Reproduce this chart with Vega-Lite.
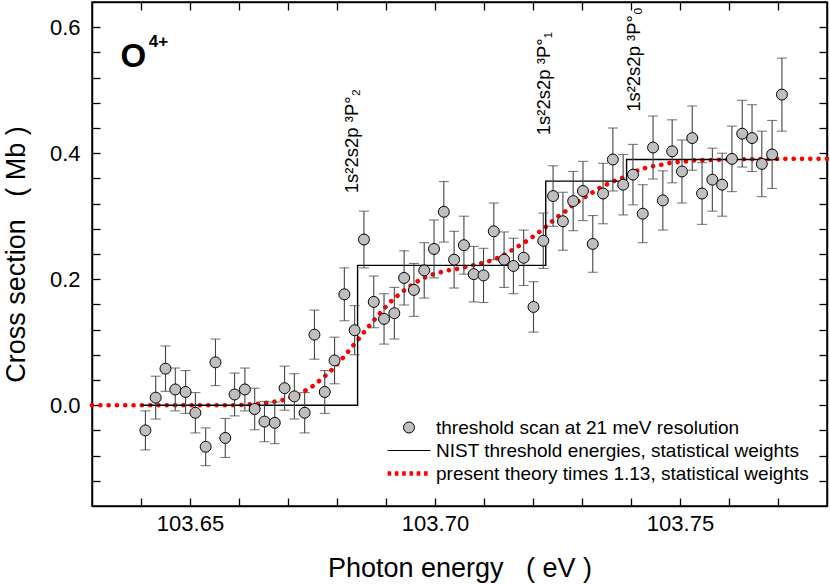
{
  "$schema": "https://vega.github.io/schema/vega-lite/v6.json",
  "width": 735,
  "height": 504,
  "autosize": "none",
  "padding": {"left": 92, "top": 2, "right": 3, "bottom": 78},
  "background": "white",
  "config": {
    "font": "Liberation Sans",
    "view": {"stroke": "black", "strokeWidth": 1.5},
    "axis": {
      "grid": false,
      "domainColor": "black",
      "domainWidth": 1.5,
      "tickColor": "black",
      "tickWidth": 1.3,
      "labelColor": "black",
      "titleColor": "black",
      "labelFont": "Liberation Sans",
      "titleFont": "Liberation Sans",
      "titleFontWeight": "normal",
      "labelFontSize": 22,
      "titleFontSize": 27,
      "labelOverlap": false,
      "labelFlush": false,
      "labelBound": false
    },
    "legend": {
      "orient": "none",
      "title": null,
      "labelFont": "Liberation Sans",
      "labelFontSize": 19,
      "labelColor": "black",
      "labelOffset": 17.5,
      "labelLimit": 0,
      "symbolSize": 121,
      "padding": 0,
      "symbolOpacity": 1
    }
  },
  "datasets": {
    "scan": [
      {"E": 103.6409, "cs": -0.040, "err": 0.031},
      {"E": 103.6430, "cs": 0.012, "err": 0.034},
      {"E": 103.6450, "cs": 0.058, "err": 0.036},
      {"E": 103.6470, "cs": 0.025, "err": 0.034},
      {"E": 103.6491, "cs": 0.021, "err": 0.034},
      {"E": 103.6511, "cs": -0.012, "err": 0.032},
      {"E": 103.6532, "cs": -0.066, "err": 0.030},
      {"E": 103.6552, "cs": 0.068, "err": 0.037},
      {"E": 103.6572, "cs": -0.052, "err": 0.031},
      {"E": 103.6591, "cs": 0.017, "err": 0.034},
      {"E": 103.6612, "cs": 0.025, "err": 0.034},
      {"E": 103.6632, "cs": -0.006, "err": 0.033},
      {"E": 103.6652, "cs": -0.026, "err": 0.032},
      {"E": 103.6673, "cs": -0.028, "err": 0.033},
      {"E": 103.6693, "cs": 0.027, "err": 0.035},
      {"E": 103.6713, "cs": 0.014, "err": 0.036},
      {"E": 103.6734, "cs": -0.012, "err": 0.032},
      {"E": 103.6754, "cs": 0.112, "err": 0.039},
      {"E": 103.6775, "cs": 0.021, "err": 0.034},
      {"E": 103.6795, "cs": 0.071, "err": 0.037},
      {"E": 103.6815, "cs": 0.176, "err": 0.042},
      {"E": 103.6836, "cs": 0.119, "err": 0.039},
      {"E": 103.6855, "cs": 0.263, "err": 0.045},
      {"E": 103.6875, "cs": 0.164, "err": 0.041},
      {"E": 103.6896, "cs": 0.137, "err": 0.040},
      {"E": 103.6917, "cs": 0.146, "err": 0.041},
      {"E": 103.6937, "cs": 0.202, "err": 0.043},
      {"E": 103.6957, "cs": 0.183, "err": 0.042},
      {"E": 103.6978, "cs": 0.214, "err": 0.044},
      {"E": 103.6998, "cs": 0.248, "err": 0.046},
      {"E": 103.7018, "cs": 0.307, "err": 0.048},
      {"E": 103.7039, "cs": 0.231, "err": 0.045},
      {"E": 103.7059, "cs": 0.254, "err": 0.046},
      {"E": 103.7079, "cs": 0.208, "err": 0.044},
      {"E": 103.7099, "cs": 0.206, "err": 0.043},
      {"E": 103.7120, "cs": 0.276, "err": 0.045},
      {"E": 103.7141, "cs": 0.231, "err": 0.044},
      {"E": 103.7160, "cs": 0.221, "err": 0.044},
      {"E": 103.7181, "cs": 0.234, "err": 0.044},
      {"E": 103.7201, "cs": 0.156, "err": 0.040},
      {"E": 103.7221, "cs": 0.261, "err": 0.044},
      {"E": 103.7241, "cs": 0.332, "err": 0.048},
      {"E": 103.7261, "cs": 0.292, "err": 0.046},
      {"E": 103.7282, "cs": 0.324, "err": 0.047},
      {"E": 103.7302, "cs": 0.340, "err": 0.047},
      {"E": 103.7322, "cs": 0.256, "err": 0.045},
      {"E": 103.7343, "cs": 0.336, "err": 0.048},
      {"E": 103.7363, "cs": 0.390, "err": 0.050},
      {"E": 103.7384, "cs": 0.350, "err": 0.048},
      {"E": 103.7404, "cs": 0.366, "err": 0.048},
      {"E": 103.7424, "cs": 0.304, "err": 0.046},
      {"E": 103.7445, "cs": 0.409, "err": 0.050},
      {"E": 103.7465, "cs": 0.325, "err": 0.047},
      {"E": 103.7484, "cs": 0.403, "err": 0.050},
      {"E": 103.7504, "cs": 0.371, "err": 0.050},
      {"E": 103.7525, "cs": 0.424, "err": 0.051},
      {"E": 103.7545, "cs": 0.336, "err": 0.049},
      {"E": 103.7566, "cs": 0.358, "err": 0.050},
      {"E": 103.7586, "cs": 0.350, "err": 0.050},
      {"E": 103.7606, "cs": 0.391, "err": 0.052},
      {"E": 103.7627, "cs": 0.431, "err": 0.053},
      {"E": 103.7647, "cs": 0.424, "err": 0.053},
      {"E": 103.7667, "cs": 0.383, "err": 0.052},
      {"E": 103.7688, "cs": 0.398, "err": 0.054},
      {"E": 103.7708, "cs": 0.493, "err": 0.058}
    ],
    "theory": [
      {"E": 103.630, "cs": 0.0},
      {"E": 103.650, "cs": 0.0},
      {"E": 103.660, "cs": 0.0},
      {"E": 103.6634, "cs": 0.002},
      {"E": 103.6650, "cs": 0.003},
      {"E": 103.6667, "cs": 0.005},
      {"E": 103.6684, "cs": 0.007},
      {"E": 103.6701, "cs": 0.011},
      {"E": 103.6717, "cs": 0.015},
      {"E": 103.6733, "cs": 0.022},
      {"E": 103.6750, "cs": 0.030},
      {"E": 103.6766, "cs": 0.040},
      {"E": 103.6783, "cs": 0.051},
      {"E": 103.6798, "cs": 0.063},
      {"E": 103.6814, "cs": 0.077},
      {"E": 103.6827, "cs": 0.089},
      {"E": 103.6841, "cs": 0.102},
      {"E": 103.6854, "cs": 0.115},
      {"E": 103.6868, "cs": 0.128},
      {"E": 103.6882, "cs": 0.141},
      {"E": 103.6897, "cs": 0.154},
      {"E": 103.6913, "cs": 0.167},
      {"E": 103.6930, "cs": 0.178},
      {"E": 103.6947, "cs": 0.188},
      {"E": 103.6963, "cs": 0.196},
      {"E": 103.6980, "cs": 0.203},
      {"E": 103.6997, "cs": 0.208},
      {"E": 103.7016, "cs": 0.212},
      {"E": 103.7033, "cs": 0.215},
      {"E": 103.7049, "cs": 0.217},
      {"E": 103.7066, "cs": 0.220},
      {"E": 103.7083, "cs": 0.223},
      {"E": 103.7099, "cs": 0.226},
      {"E": 103.7116, "cs": 0.230},
      {"E": 103.7132, "cs": 0.235},
      {"E": 103.7149, "cs": 0.242},
      {"E": 103.7165, "cs": 0.250},
      {"E": 103.7182, "cs": 0.258},
      {"E": 103.7199, "cs": 0.267},
      {"E": 103.7216, "cs": 0.277},
      {"E": 103.7232, "cs": 0.287},
      {"E": 103.7248, "cs": 0.298},
      {"E": 103.7265, "cs": 0.307},
      {"E": 103.7282, "cs": 0.318},
      {"E": 103.7299, "cs": 0.327},
      {"E": 103.7316, "cs": 0.335},
      {"E": 103.7332, "cs": 0.343},
      {"E": 103.7349, "cs": 0.350},
      {"E": 103.7366, "cs": 0.356},
      {"E": 103.7383, "cs": 0.361},
      {"E": 103.7399, "cs": 0.368},
      {"E": 103.7415, "cs": 0.373},
      {"E": 103.7431, "cs": 0.377},
      {"E": 103.7448, "cs": 0.380},
      {"E": 103.7465, "cs": 0.382},
      {"E": 103.7481, "cs": 0.385},
      {"E": 103.7498, "cs": 0.386},
      {"E": 103.7515, "cs": 0.387},
      {"E": 103.7532, "cs": 0.389},
      {"E": 103.7548, "cs": 0.389},
      {"E": 103.7600, "cs": 0.390},
      {"E": 103.7700, "cs": 0.391},
      {"E": 103.7800, "cs": 0.391}
    ],
    "nist": [
      {"E": 103.6400, "cs": 0.0},
      {"E": 103.6842, "cs": 0.222},
      {"E": 103.7226, "cs": 0.3556},
      {"E": 103.7391, "cs": 0.390},
      {"E": 103.7700, "cs": 0.390}
    ],
    "notes": [
      {"E": 103.6843, "cs": 0.3365, "label": "1s²2s2p ³P°₂"},
      {"E": 103.7235, "cs": 0.4286, "label": "1s²2s2p ³P°₁"},
      {"E": 103.7419, "cs": 0.4656, "label": "1s²2s2p ³P°₀"}
    ],
    "ion": [
      {"E": 103.6358, "cs": 0.5365, "label": "O"}
    ],
    "charge": [
      {"E": 103.6416, "cs": 0.568, "label": "4+"}
    ]
  },
  "resolve": {"axis": {"x": "independent", "y": "independent"}},
  "layer": [
    {
      "resolve": {"scale": {"stroke": "independent"}},
      "layer": [
        {
          "data": {"name": "theory"},
          "mark": {"type": "line", "strokeWidth": 4.6, "strokeDash": [0.1, 8.2], "strokeCap": "round"},
          "encoding": {
            "x": {
              "field": "E", "type": "quantitative",
              "scale": {"domain": [103.63, 103.78], "nice": false, "zero": false},
              "axis": {"orient": "bottom", "title": "Photon energy\u00a0\u00a0\u00a0( eV )", "values": [103.64, 103.65, 103.66, 103.67, 103.68, 103.69, 103.70, 103.71, 103.72, 103.73, 103.74, 103.75, 103.76, 103.77], "labelExpr": "abs(datum.value*20 - round(datum.value*20)) < 0.000001 ? format(datum.value, '.2f') : ''", "tickSize": -8, "labelPadding": 15, "titlePadding": 21, "encode": {"ticks": {"y2": {"condition": {"test": "abs(datum.value*20 - round(datum.value*20)) < 0.000001", "value": -8}, "value": -4}}}}
            },
            "y": {
              "field": "cs", "type": "quantitative",
              "scale": {"domain": [-0.16, 0.64], "nice": false, "zero": false},
              "axis": {"orient": "left", "title": "Cross section\u00a0\u00a0\u00a0( Mb )", "values": [-0.12, -0.08, -0.04, 0, 0.04, 0.08, 0.12, 0.16, 0.2, 0.24, 0.28, 0.32, 0.36, 0.4, 0.44, 0.48, 0.52, 0.56, 0.6], "labelExpr": "abs(datum.value*5 - round(datum.value*5)) < 0.000001 ? format(datum.value, '.1f') : ''", "tickSize": -8, "labelPadding": 20, "titlePadding": 18.5, "encode": {"ticks": {"x2": {"condition": {"test": "abs(datum.value*5 - round(datum.value*5)) < 0.000001", "value": 8}, "value": 4}}}}
            },
            "stroke": {
              "datum": "present theory times 1.13, statistical weights",
              "type": "nominal",
              "scale": {"domain": ["present theory times 1.13, statistical weights"], "range": ["red"]},
              "legend": {"legendX": 307.5, "legendY": 462, "symbolType": "M-3.9,0L3.9,0", "symbolStrokeWidth": 4.5, "symbolDash": [3.6, 3.7], "symbolFillColor": "transparent"}
            }
          }
        },
        {
          "data": {"name": "nist"},
          "mark": {"type": "line", "interpolate": "step-after", "strokeWidth": 1.4},
          "encoding": {
            "x": {"field": "E", "type": "quantitative",
              "axis": {"orient": "bottom", "title": "Photon energy\u00a0\u00a0\u00a0( eV )", "values": [103.64, 103.65, 103.66, 103.67, 103.68, 103.69, 103.70, 103.71, 103.72, 103.73, 103.74, 103.75, 103.76, 103.77], "labelExpr": "abs(datum.value*20 - round(datum.value*20)) < 0.000001 ? format(datum.value, '.2f') : ''", "tickSize": -8, "labelPadding": 15, "titlePadding": 21, "encode": {"ticks": {"y2": {"condition": {"test": "abs(datum.value*20 - round(datum.value*20)) < 0.000001", "value": -8}, "value": -4}}}}},
            "y": {"field": "cs", "type": "quantitative",
              "axis": {"orient": "left", "title": "Cross section\u00a0\u00a0\u00a0( Mb )", "values": [-0.12, -0.08, -0.04, 0, 0.04, 0.08, 0.12, 0.16, 0.2, 0.24, 0.28, 0.32, 0.36, 0.4, 0.44, 0.48, 0.52, 0.56, 0.6], "labelExpr": "abs(datum.value*5 - round(datum.value*5)) < 0.000001 ? format(datum.value, '.1f') : ''", "tickSize": -8, "labelPadding": 20, "titlePadding": 18.5, "encode": {"ticks": {"x2": {"condition": {"test": "abs(datum.value*5 - round(datum.value*5)) < 0.000001", "value": 8}, "value": 4}}}}},
            "stroke": {
              "datum": "NIST threshold energies, statistical weights",
              "type": "nominal",
              "scale": {"domain": ["NIST threshold energies, statistical weights"], "range": ["black"]},
              "legend": {"legendX": 307.5, "legendY": 439, "symbolType": "M-3.9,0L3.9,0", "symbolStrokeWidth": 1.2, "symbolFillColor": "transparent"}
            }
          }
        },
        {
          "data": {"name": "scan"},
          "mark": {"type": "errorbar", "color": "#444444", "thickness": 1.1, "ticks": {"size": 10, "thickness": 1.1, "color": "#444444"}},
          "encoding": {
            "x": {"field": "E", "type": "quantitative",
              "axis": {"orient": "bottom", "title": "Photon energy\u00a0\u00a0\u00a0( eV )", "values": [103.64, 103.65, 103.66, 103.67, 103.68, 103.69, 103.70, 103.71, 103.72, 103.73, 103.74, 103.75, 103.76, 103.77], "labelExpr": "abs(datum.value*20 - round(datum.value*20)) < 0.000001 ? format(datum.value, '.2f') : ''", "tickSize": -8, "labelPadding": 15, "titlePadding": 21, "encode": {"ticks": {"y2": {"condition": {"test": "abs(datum.value*20 - round(datum.value*20)) < 0.000001", "value": -8}, "value": -4}}}}},
            "y": {"field": "cs", "type": "quantitative",
              "axis": {"orient": "left", "title": "Cross section\u00a0\u00a0\u00a0( Mb )", "values": [-0.12, -0.08, -0.04, 0, 0.04, 0.08, 0.12, 0.16, 0.2, 0.24, 0.28, 0.32, 0.36, 0.4, 0.44, 0.48, 0.52, 0.56, 0.6], "labelExpr": "abs(datum.value*5 - round(datum.value*5)) < 0.000001 ? format(datum.value, '.1f') : ''", "tickSize": -8, "labelPadding": 20, "titlePadding": 18.5, "encode": {"ticks": {"x2": {"condition": {"test": "abs(datum.value*5 - round(datum.value*5)) < 0.000001", "value": 8}, "value": 4}}}}},
            "yError": {"field": "err"}
          }
        },
        {
          "data": {"name": "scan"},
          "mark": {"type": "point", "shape": "circle", "filled": true, "size": 120, "stroke": "black", "strokeWidth": 1, "opacity": 1},
          "encoding": {
            "x": {"field": "E", "type": "quantitative",
              "axis": {"orient": "bottom", "title": "Photon energy\u00a0\u00a0\u00a0( eV )", "values": [103.64, 103.65, 103.66, 103.67, 103.68, 103.69, 103.70, 103.71, 103.72, 103.73, 103.74, 103.75, 103.76, 103.77], "labelExpr": "abs(datum.value*20 - round(datum.value*20)) < 0.000001 ? format(datum.value, '.2f') : ''", "tickSize": -8, "labelPadding": 15, "titlePadding": 21, "encode": {"ticks": {"y2": {"condition": {"test": "abs(datum.value*20 - round(datum.value*20)) < 0.000001", "value": -8}, "value": -4}}}}},
            "y": {"field": "cs", "type": "quantitative",
              "axis": {"orient": "left", "title": "Cross section\u00a0\u00a0\u00a0( Mb )", "values": [-0.12, -0.08, -0.04, 0, 0.04, 0.08, 0.12, 0.16, 0.2, 0.24, 0.28, 0.32, 0.36, 0.4, 0.44, 0.48, 0.52, 0.56, 0.6], "labelExpr": "abs(datum.value*5 - round(datum.value*5)) < 0.000001 ? format(datum.value, '.1f') : ''", "tickSize": -8, "labelPadding": 20, "titlePadding": 18.5, "encode": {"ticks": {"x2": {"condition": {"test": "abs(datum.value*5 - round(datum.value*5)) < 0.000001", "value": 8}, "value": 4}}}}},
            "fill": {
              "datum": "threshold scan at 21 meV resolution",
              "type": "nominal",
              "scale": {"domain": ["threshold scan at 21 meV resolution"], "range": ["#bfbfbf"]},
              "legend": {"legendX": 307.5, "legendY": 416, "symbolType": "circle", "symbolStrokeColor": "black", "symbolStrokeWidth": 1}
            }
          }
        },
        {
          "data": {"name": "notes"},
          "mark": {"type": "text", "angle": 270, "align": "left", "baseline": "alphabetic", "fontSize": 18.5, "font": "Liberation Sans", "color": "black"},
          "encoding": {
            "x": {"field": "E", "type": "quantitative",
              "axis": {"orient": "bottom", "title": "Photon energy\u00a0\u00a0\u00a0( eV )", "values": [103.64, 103.65, 103.66, 103.67, 103.68, 103.69, 103.70, 103.71, 103.72, 103.73, 103.74, 103.75, 103.76, 103.77], "labelExpr": "abs(datum.value*20 - round(datum.value*20)) < 0.000001 ? format(datum.value, '.2f') : ''", "tickSize": -8, "labelPadding": 15, "titlePadding": 21, "encode": {"ticks": {"y2": {"condition": {"test": "abs(datum.value*20 - round(datum.value*20)) < 0.000001", "value": -8}, "value": -4}}}}},
            "y": {"field": "cs", "type": "quantitative",
              "axis": {"orient": "left", "title": "Cross section\u00a0\u00a0\u00a0( Mb )", "values": [-0.12, -0.08, -0.04, 0, 0.04, 0.08, 0.12, 0.16, 0.2, 0.24, 0.28, 0.32, 0.36, 0.4, 0.44, 0.48, 0.52, 0.56, 0.6], "labelExpr": "abs(datum.value*5 - round(datum.value*5)) < 0.000001 ? format(datum.value, '.1f') : ''", "tickSize": -8, "labelPadding": 20, "titlePadding": 18.5, "encode": {"ticks": {"x2": {"condition": {"test": "abs(datum.value*5 - round(datum.value*5)) < 0.000001", "value": 8}, "value": 4}}}}},
            "text": {"field": "label"}
          }
        },
        {
          "data": {"name": "ion"},
          "mark": {"type": "text", "align": "left", "baseline": "alphabetic", "fontSize": 33, "fontWeight": "bold", "font": "Liberation Sans", "color": "black"},
          "encoding": {
            "x": {"field": "E", "type": "quantitative",
              "axis": {"orient": "bottom", "title": "Photon energy\u00a0\u00a0\u00a0( eV )", "values": [103.64, 103.65, 103.66, 103.67, 103.68, 103.69, 103.70, 103.71, 103.72, 103.73, 103.74, 103.75, 103.76, 103.77], "labelExpr": "abs(datum.value*20 - round(datum.value*20)) < 0.000001 ? format(datum.value, '.2f') : ''", "tickSize": -8, "labelPadding": 15, "titlePadding": 21, "encode": {"ticks": {"y2": {"condition": {"test": "abs(datum.value*20 - round(datum.value*20)) < 0.000001", "value": -8}, "value": -4}}}}},
            "y": {"field": "cs", "type": "quantitative",
              "axis": {"orient": "left", "title": "Cross section\u00a0\u00a0\u00a0( Mb )", "values": [-0.12, -0.08, -0.04, 0, 0.04, 0.08, 0.12, 0.16, 0.2, 0.24, 0.28, 0.32, 0.36, 0.4, 0.44, 0.48, 0.52, 0.56, 0.6], "labelExpr": "abs(datum.value*5 - round(datum.value*5)) < 0.000001 ? format(datum.value, '.1f') : ''", "tickSize": -8, "labelPadding": 20, "titlePadding": 18.5, "encode": {"ticks": {"x2": {"condition": {"test": "abs(datum.value*5 - round(datum.value*5)) < 0.000001", "value": 8}, "value": 4}}}}},
            "text": {"field": "label"}
          }
        },
        {
          "data": {"name": "charge"},
          "mark": {"type": "text", "align": "left", "baseline": "alphabetic", "fontSize": 17, "fontWeight": "bold", "font": "Liberation Sans", "color": "black"},
          "encoding": {
            "x": {"field": "E", "type": "quantitative",
              "axis": {"orient": "bottom", "title": "Photon energy\u00a0\u00a0\u00a0( eV )", "values": [103.64, 103.65, 103.66, 103.67, 103.68, 103.69, 103.70, 103.71, 103.72, 103.73, 103.74, 103.75, 103.76, 103.77], "labelExpr": "abs(datum.value*20 - round(datum.value*20)) < 0.000001 ? format(datum.value, '.2f') : ''", "tickSize": -8, "labelPadding": 15, "titlePadding": 21, "encode": {"ticks": {"y2": {"condition": {"test": "abs(datum.value*20 - round(datum.value*20)) < 0.000001", "value": -8}, "value": -4}}}}},
            "y": {"field": "cs", "type": "quantitative",
              "axis": {"orient": "left", "title": "Cross section\u00a0\u00a0\u00a0( Mb )", "values": [-0.12, -0.08, -0.04, 0, 0.04, 0.08, 0.12, 0.16, 0.2, 0.24, 0.28, 0.32, 0.36, 0.4, 0.44, 0.48, 0.52, 0.56, 0.6], "labelExpr": "abs(datum.value*5 - round(datum.value*5)) < 0.000001 ? format(datum.value, '.1f') : ''", "tickSize": -8, "labelPadding": 20, "titlePadding": 18.5, "encode": {"ticks": {"x2": {"condition": {"test": "abs(datum.value*5 - round(datum.value*5)) < 0.000001", "value": 8}, "value": 4}}}}},
            "text": {"field": "label"}
          }
        }
      ]
    },
    {
      "data": {"name": "nist"},
      "mark": {"type": "line", "opacity": 0},
      "encoding": {
        "x": {
          "field": "E", "type": "quantitative",
          "axis": {"orient": "top", "title": null, "labels": false, "values": [103.64, 103.65, 103.66, 103.67, 103.68, 103.69, 103.70, 103.71, 103.72, 103.73, 103.74, 103.75, 103.76, 103.77], "tickSize": -8, "encode": {"ticks": {"y2": {"condition": {"test": "abs(datum.value*20 - round(datum.value*20)) < 0.000001", "value": 8}, "value": 4}}}}
        },
        "y": {
          "field": "cs", "type": "quantitative",
          "axis": {"orient": "right", "title": null, "labels": false, "values": [-0.12, -0.08, -0.04, 0, 0.04, 0.08, 0.12, 0.16, 0.2, 0.24, 0.28, 0.32, 0.36, 0.4, 0.44, 0.48, 0.52, 0.56, 0.6], "tickSize": -8, "encode": {"ticks": {"x2": {"condition": {"test": "abs(datum.value*5 - round(datum.value*5)) < 0.000001", "value": -8}, "value": -4}}}}
        }
      }
    }
  ]
}
